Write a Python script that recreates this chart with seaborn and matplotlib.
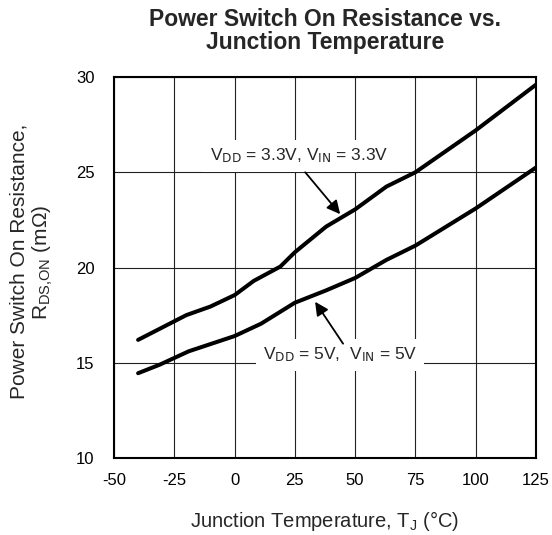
import matplotlib
matplotlib.use("Agg")
import matplotlib.pyplot as plt
import pandas as pd
import seaborn as sns

# curve
temp_33v = [-40, -30, -20, -10, 0, 8, 19, 25, 38, 50, 63, 75, 100, 125]
rdson_33v = [16.2, 16.85, 17.5, 17.95, 18.55, 19.3, 20.05, 20.8, 22.15, 23.05, 24.25, 25.0, 27.2, 29.6]

temp_5v = [-40, -31, -19, 0, 11, 25, 38, 50, 63, 75, 100, 125]
rdson_5v = [14.45, 14.9, 15.6, 16.4, 17.05, 18.15, 18.8, 19.45, 20.4, 21.15, 23.1, 25.25]

series_names = ["3.3V", "5V"]
x_ticks = [-50, -25, 0, 25, 50, 75, 100, 125]
y_ticks = [10, 15, 20, 25, 30]

label_33v = r"V$_{\rm DD}$ = 3.3V, V$_{\rm IN}$ = 3.3V"
label_5v = r"V$_{\rm DD}$ = 5V,  V$_{\rm IN}$ = 5V"


def build_frame() -> pd.DataFrame:
    a = pd.DataFrame({"temp": temp_33v, "rdson": rdson_33v, "supply": series_names[0]})
    b = pd.DataFrame({"temp": temp_5v, "rdson": rdson_5v, "supply": series_names[1]})
    return pd.concat([a, b], ignore_index=True)


def main() -> None:
    sns.set_style("ticks")
    plt.rcParams["font.family"] = ["Liberation Sans", "DejaVu Sans"]
    plt.rcParams["mathtext.default"] = "regular"
    plt.rcParams["axes.unicode_minus"] = False

    df = build_frame()
    fig, ax = plt.subplots(figsize=(5.52, 5.35), dpi=100)
    fig.subplots_adjust(left=0.2065, right=0.971, bottom=0.144, top=0.856)

    sns.lineplot(data=df, x="temp", y="rdson", hue="supply", palette=["black", "black"],
                 linewidth=2.9, legend=False, sort=False, ax=ax, zorder=3)

    ax.set_xlim(-50, 125)
    ax.set_ylim(10, 30)
    ax.set_xticks(x_ticks)
    ax.set_yticks(y_ticks)
    ax.grid(True, color="#222222", linewidth=0.8)
    ax.tick_params(length=0, labelsize=12, colors="black")
    ax.tick_params(axis="x", pad=11)
    ax.tick_params(axis="y", pad=14)
    for s in ax.spines.values():
        s.set_linewidth(1.5)
        s.set_color("black")
        s.set_zorder(5)

    ax.set_title("Power Switch On Resistance vs.\nJunction Temperature",
                 fontsize=16.5, fontweight="bold", pad=20, linespacing=1.02)
    ax.set_xlabel(r"Junction Temperature, T$_J$ (°C)", fontsize=14.5, labelpad=15)
    ax.set_ylabel("Power Switch On Resistance,\n" + r"R$_{DS{,}ON}$ (mΩ)",
                  fontsize=15, linespacing=1.15)
    ax.yaxis.set_label_coords(-0.14, 0.515)

    box = dict(boxstyle="square,pad=0.4", facecolor="white", edgecolor="none")
    ax.text(26.8, 25.85, label_33v, fontsize=12.5, ha="center", va="center", bbox=box, zorder=4)
    ax.text(43.8, 15.4, label_5v, fontsize=12.5, ha="center", va="center", bbox=box, zorder=4)

    arrow = dict(arrowstyle="-|>", mutation_scale=20, lw=1.3, color="black", shrinkA=0, shrinkB=0)
    ax.annotate("", xy=(43.8, 22.8), xytext=(29.3, 25.0), arrowprops=arrow, zorder=6)
    ax.annotate("", xy=(33.4, 18.2), xytext=(45.0, 16.0), arrowprops=arrow, zorder=6)

    fig.savefig("out.png", dpi=100)
    plt.close(fig)


if __name__ == "__main__":
    main()
